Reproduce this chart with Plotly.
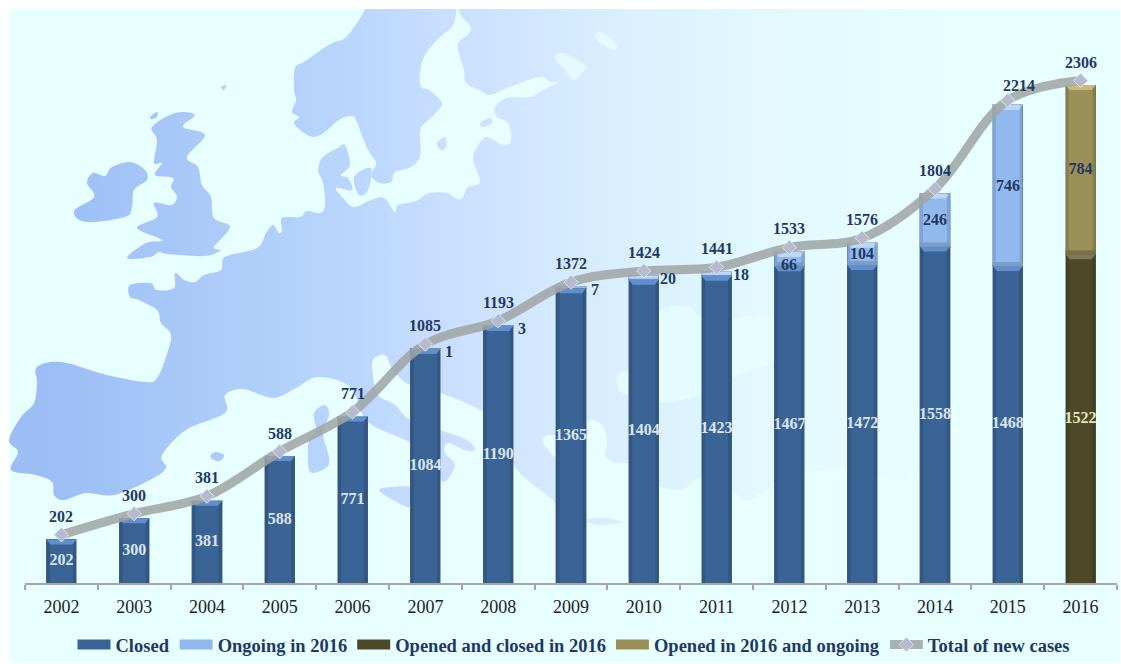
import base64
import plotly.graph_objects as go

years = list(range(2002, 2017))
closed = [202, 300, 381, 588, 771, 1084, 1190, 1365, 1404, 1423, 1467, 1472, 1558, 1468, None]
ongoing = [None, None, None, None, None, 1, 3, 7, 20, 18, 66, 104, 246, 746, None]
opened_closed = [None] * 14 + [1522]
opened_ongoing = [None] * 14 + [784]
total = [202, 300, 381, 588, 771, 1085, 1193, 1372, 1424, 1441, 1533, 1576, 1804, 2214, 2306]

W, H = 1121, 664
FIG_H = 690                # a little taller than the window, so the legend does not push the margins
L, R, T, B = 25, 4, 9, 66
AXIS_Y = 583               # page pixel of the zero line
plot_w, paper_h = W - L - R, FIG_H - T - B
plot_h = AXIS_Y - T
Y_MAX = 2658
UX = 1 / (plot_w / 15)      # x units per pixel
UY = Y_MAX / plot_h         # y units per pixel
BAR_W = 0.413
SERIF = "Liberation Serif"
NAVY = "#1F3864"
DOMAIN = [(FIG_H - B - AXIS_Y) / paper_h, 1]

# ---------- decorative map backdrop (page pixels) ----------
LAND = [
    (486,-6),(471,30),(459,42),(459,53),(464,70),(466,83),(479,90),(490,95),(507,88),(540,77),(550,82),(558,82),
    (543,90),(530,97),(507,98),(495,107),(497,117),(508,123),(511,140),(503,145),(487,137),(477,147),(473,160),
    (480,182),(468,187),(463,197),(457,199),(447,193),(429,193),(416,201),(398,205),(395,212),(384,198),(371,200),
    (354,207),(343,198),(336,188),(352,190),(348,178),(341,175),(350,165),(345,145),(338,148),(323,157),(318,170),
    (323,183),(325,205),(320,213),(307,211),(300,217),(282,218),(282,230),(279,233),(273,225),(266,233),(257,248),
    (225,257),(221,270),(204,275),(195,282),(184,280),(175,273),(174,288),(157,290),(150,283),(130,285),(130,297),
    (139,300),(157,310),(161,323),(171,335),(166,357),(157,378),(146,382),(107,375),(61,362),(37,367),(37,383),
    (34,403),(21,417),(9,440),(18,452),(11,470),(36,475),(52,482),(54,495),(64,500),(86,493),(114,495),(150,480),
    (166,468),(162,455),(186,430),(225,413),(225,395),(243,389),(273,398),(296,388),(318,377),(350,387),(368,422),
    (411,443),(428,460),(443,482),(455,465),(445,453),(448,443),(465,450),(475,450),(467,440),(440,430),(410,420),
    (395,405),(378,395),(373,375),(373,360),(385,355),(393,370),(410,385),(440,393),(483,412),(500,440),(515,467),
    (530,482),(553,500),(557,510),(566,514),(572,492),(556,460),(544,445),(544,437),(555,435),(570,440),(587,435),
    (587,423),(595,420),(605,430),(607,445),(605,455),(612,462),(617,463),(633,465),(640,480),(680,490),(700,477),
    (720,480),(745,500),(765,490),(790,475),(850,470),(900,480),(950,470),(1160,520),(1180,200),(1160,-40),(800,-40),
]
SCANDINAVIA = [
    (376,-6),(357,23),(345,38),(332,43),(318,52),(304,62),(295,68),(294,90),(296,100),(292,112),(299,117),(294,123),
    (304,133),(314,137),(325,132),(339,120),(352,116),(357,122),(361,133),(368,150),(376,163),(371,175),(379,183),
    (391,182),(395,172),(409,168),(420,157),(420,133),(423,125),(434,115),(442,103),(429,90),(421,87),(420,73),
    (425,55),(439,38),(454,23),(452,-6),(410,-30),
]
BRITAIN = [
    (175,113),(195,115),(183,127),(205,135),(187,157),(198,167),(202,185),(211,197),(214,218),(230,227),(214,247),
    (221,250),(205,256),(168,254),(159,252),(150,257),(127,258),(146,243),(162,240),(137,228),(157,217),(154,203),
    (171,205),(177,197),(171,187),(173,178),(155,175),(162,163),(154,163),(157,140),(152,127),
]
IRELAND = [
    (112,167),(130,162),(145,170),(147,180),(134,190),(132,207),(125,217),(86,222),(74,211),(94,197),(87,183),(93,173),(105,176),
]
ISLANDS = [
    [(150,117),(157,112),(157,117),(152,119)],
    [(221,87),(226,85),(224,90)],
    [(437,143),(445,137),(446,147),(441,150)],
    [(354,177),(371,168),(368,190),(359,195)],
    [(480,123),(490,118),(492,123),(483,127)],
    [(314,413),(325,405),(329,415),(323,433),(329,457),(327,467),(312,473),(308,463),(309,440),(316,430)],
    [(211,455),(216,452),(224,455),(220,461),(212,459)],
    [(379,490),(393,487),(411,488),(411,507),(393,500)],
    [(583,520),(605,518),(622,522),(600,525)],
]
WATERS = [
    [(555,58),(563,53),(585,65),(583,72),(573,80),(563,68)],
    [(595,35),(602,32),(617,45),(613,50),(600,43)],
    [(617,383),(620,372),(640,368),(650,350),(657,312),(687,307),(710,320),(770,315),(800,330),(800,350),(740,375),(700,395),(660,403),(625,395)],
]


def smooth(points):
    n = len(points)
    d = f"M{points[0][0]} {points[0][1]}"
    for i in range(n):
        p0, p1, p2, p3 = points[i - 1], points[i], points[(i + 1) % n], points[(i + 2) % n]
        c1 = (p1[0] + (p2[0] - p0[0]) / 6, p1[1] + (p2[1] - p0[1]) / 6)
        c2 = (p2[0] - (p3[0] - p1[0]) / 6, p2[1] - (p3[1] - p1[1]) / 6)
        d += f"C{c1[0]:.1f} {c1[1]:.1f} {c2[0]:.1f} {c2[1]:.1f} {p2[0]} {p2[1]}"
    return d + "Z"


land_d = "".join(smooth(p) for p in [LAND, SCANDINAVIA, BRITAIN, IRELAND] + ISLANDS)
water_d = "".join(smooth(p) for p in WATERS)
svg = f'''<svg xmlns="http://www.w3.org/2000/svg" width="{W}" height="{H}" viewBox="0 0 {W} {H}">
<defs><linearGradient id="g" gradientUnits="userSpaceOnUse" x1="50" y1="0" x2="960" y2="0">
<stop offset="0" stop-color="#9CBEF5"/><stop offset="0.33" stop-color="#BAD6FD"/>
<stop offset="0.44" stop-color="#CADFFF"/><stop offset="0.62" stop-color="#D9EFFF"/>
<stop offset="0.80" stop-color="#E2FAFF"/><stop offset="1" stop-color="#E7FFFF"/></linearGradient>
<clipPath id="c"><rect x="9" y="9" width="1110" height="655"/></clipPath></defs>
<rect x="9" y="9" width="1111" height="654" fill="#E7FFFF"/>
<g clip-path="url(#c)"><path d="{land_d}" fill="url(#g)"/><path d="{water_d}" fill="#E7FFFF" fill-opacity="0.75"/></g></svg>'''
backdrop = "data:image/svg+xml;base64," + base64.b64encode(svg.encode()).decode()


# ---------- bevel helpers, all derived from the data values ----------
def bevel_top(x, top, h=5, inset=4):
    hw = BAR_W / 2
    return ([x - hw, x + hw, x + hw - inset * UX, x - hw + inset * UX, x - hw, None],
            [top, top, top - h * UY, top - h * UY, top, None])


def band(x, low, high, side, w=3):
    hw = BAR_W / 2
    a = x - hw if side < 0 else x + hw - w * UX
    b = a + w * UX
    return [a, b, b, a, a, None], [low, low, high, high, low, None]


def poly_trace(xs, ys, color):
    return go.Scatter(x=xs, y=ys, mode="lines", fill="toself", fillcolor=color, line=dict(width=0),
                      hoverinfo="skip", showlegend=False)


fig = go.Figure()
BAR_LINE = "rgba(90,105,115,0.45)"
series = [
    ("Closed", closed, "#3B6496"),
    ("Ongoing in 2016", ongoing, "#92B9EE"),
    ("Opened and closed in 2016", opened_closed, "#4D4929"),
    ("Opened in 2016 and ongoing", opened_ongoing, "#9C9059"),
]
for name, vals, col in series:
    fig.add_trace(go.Bar(x=years, y=vals, name=name, width=BAR_W, showlegend=False,
                         marker=dict(color=col, line=dict(color=BAR_LINE, width=1))))

polys = {}


def add(color, pair):
    xs, ys = polys.setdefault(color, ([], []))
    xs += pair[0]
    ys += pair[1]


for i, yr in enumerate(years):
    base = closed[i] if closed[i] is not None else opened_closed[i]
    upper = ongoing[i] if ongoing[i] is not None else opened_ongoing[i]
    is_2016 = closed[i] is None
    side_col = "rgba(30,30,10,0.22)" if is_2016 else "rgba(20,40,75,0.22)"
    for s in (-1, 1):
        add(side_col, band(yr, 0, base, s, w=3.5))
        add(side_col, band(yr, 0, base, s, w=1.5))
    add("#7D7A5C" if is_2016 else "#5F8FCC", bevel_top(yr, base))
    if upper:
        top = base + upper
        if upper >= 40:
            pale_side = "rgba(90,80,30,0.30)" if is_2016 else "rgba(60,95,150,0.24)"
            for s in (-1, 1):
                add(pale_side, band(yr, base, top, s, w=3))
            add("#C8BA78" if is_2016 else "#BBD8FA", bevel_top(yr, top))
            lo = base + 4 * UY
            hw = BAR_W / 2
            add("#7B7146" if is_2016 else "#7E9CC4", ([yr - hw, yr + hw, yr + hw, yr - hw, yr - hw, None],
                                                      [base, base, lo, lo, base, None]))
        elif upper >= 15:
            add("#BBD8FA", bevel_top(yr, top, h=3, inset=1))
for color, (xs, ys) in polys.items():
    fig.add_trace(poly_trace(xs, ys, color))

# wide legend swatches
for name, vals, col in series:
    fig.add_trace(go.Scatter(x=[None], y=[None], name=name, mode="lines", line=dict(color=col, width=10), hoverinfo="skip"))

# total line on a twin axis lifted slightly, as in the original
fig.add_trace(go.Scatter(
    x=years, y=total, name="Total of new cases", yaxis="y2", mode="lines+markers",
    line=dict(color="rgba(158,164,164,0.86)", width=9, shape="spline", smoothing=1.0),
    marker=dict(symbol="diamond", size=11, color="#B6BACD", line=dict(color="#DDE0EA", width=1)),
))

LABEL = 16
closed_years = [y for y, v in zip(years, closed) if v is not None]
closed_vals = [v for v in closed if v is not None]
fig.add_trace(go.Scatter(x=closed_years, y=[v / 2 for v in closed_vals], mode="text", text=[str(v) for v in closed_vals],
                         textfont=dict(family=SERIF, size=LABEL, color="#DCE5F0", weight="bold"), showlegend=False, hoverinfo="skip"))
fig.add_trace(go.Scatter(x=[2016], y=[opened_closed[-1] / 2], mode="text", text=[str(opened_closed[-1])],
                         textfont=dict(family=SERIF, size=LABEL, color="#E6E6B8", weight="bold"), showlegend=False, hoverinfo="skip"))
fig.add_trace(go.Scatter(x=[2016], y=[opened_closed[-1] + opened_ongoing[-1] / 2], mode="text", text=[str(opened_ongoing[-1])],
                         textfont=dict(family=SERIF, size=LABEL, color=NAVY, weight="bold"), showlegend=False, hoverinfo="skip"))

annotations = []
label_font = dict(family=SERIF, size=LABEL, color=NAVY, weight="bold")
for yr, c, o in zip(years, closed, ongoing):
    if not o:
        continue
    if o < 30:
        annotations.append(dict(x=yr, y=c + o, text=str(o), showarrow=False, font=label_font, xshift=24, yshift=-3))
    elif o == 66:
        annotations.append(dict(x=yr, y=c + o / 2, text=str(o), showarrow=False, font=label_font, yshift=-5))
    else:
        annotations.append(dict(x=yr, y=c + o / 2, text=str(o), showarrow=False, font=label_font))
for yr, t in zip(years, total):
    dx, dy = (11, 19) if yr == 2015 else (0, 23)
    annotations.append(dict(x=yr, y=t, text=str(t), showarrow=False, font=label_font, xshift=dx, yshift=dy))

tick_edges = [y - 0.5 for y in years] + [years[-1] + 0.5]
fig.update_layout(
    width=W, height=FIG_H, margin=dict(l=L, r=R, t=T, b=B, pad=0),
    paper_bgcolor="white", plot_bgcolor="rgba(0,0,0,0)", barmode="stack",
    font=dict(family=SERIF),
    xaxis=dict(range=[2001.5, 2016.5], tickmode="array", tickvals=years, ticktext=[str(y) for y in years],
               ticks="", ticklen=0, showgrid=False, zeroline=False, showline=True, linecolor="#A6A6A6", linewidth=1.5,
               ticklabelstandoff=7, anchor="y",
               tickfont=dict(family=SERIF, size=18, color="#222222"),
               minor=dict(tickmode="array", tickvals=tick_edges, ticks="outside", ticklen=5, tickcolor="#A6A6A6", tickwidth=1.5, showgrid=False)),
    yaxis=dict(range=[0, Y_MAX], domain=DOMAIN, visible=False, showgrid=False, zeroline=False),
    yaxis2=dict(range=[-21, Y_MAX - 21], domain=DOMAIN, overlaying="y", visible=False, showgrid=False, zeroline=False),
    legend=dict(orientation="h", x=(574 - L) / plot_w, xanchor="center", y=(FIG_H - 645 - B) / paper_h, yanchor="middle",
                itemwidth=33, font=dict(family=SERIF, size=18.5, color=NAVY, weight="bold"),
                bgcolor="rgba(0,0,0,0)", traceorder="normal"),
    annotations=annotations,
    images=[dict(source=backdrop, xref="paper", yref="paper", x=-L / plot_w, y=1 + T / paper_h,
                 sizex=W / plot_w, sizey=H / paper_h, xanchor="left", yanchor="top", sizing="stretch", layer="below")],
)
fig.write_html("out.html", config={"displayModeBar": False},
               post_script="document.documentElement.style.overflow='hidden';document.documentElement.style.height='664px';"
                           "document.body.style.margin='0';document.body.style.overflow='hidden';document.body.style.height='664px';")
